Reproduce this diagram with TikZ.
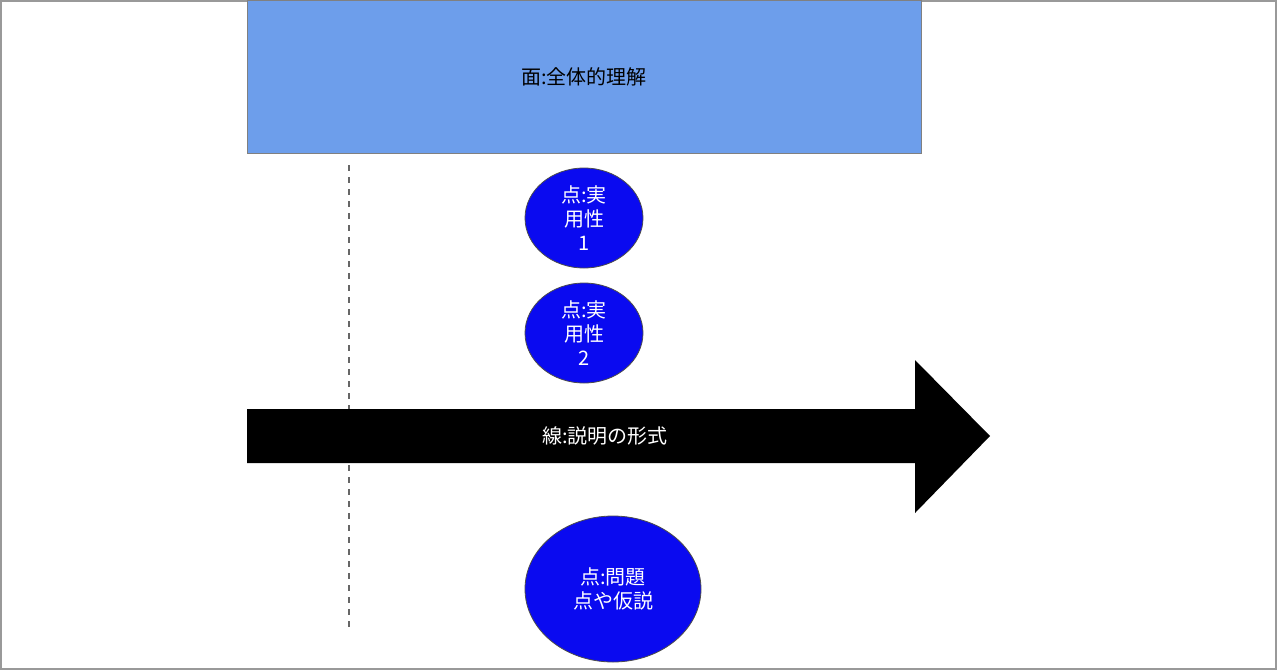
\documentclass[tikz,border=0pt]{standalone}
\usepackage{fontspec}
\setmainfont{Noto Sans CJK JP}
\definecolor{faceblue}{HTML}{6D9EEB}
\definecolor{pointblue}{HTML}{0A0AF0}
\tikzset{
  point/.style={ellipse,draw=black!70,fill=pointblue,text=white,align=center,inner sep=0pt,font=\fontsize{10}{12}\selectfont},
}
\usetikzlibrary{shapes.geometric}
\begin{document}
\begin{tikzpicture}[x=0.5pt,y=-0.5pt]
  \useasboundingbox (0,0) rectangle (1280,670);
  \draw[black!40,line width=0.6pt] (1,1) rectangle (1276,669);
  % face
  \draw[fill=faceblue,draw=black!50] (247,0) rectangle (921,153);
  \node[font=\fontsize{10}{12}\selectfont] (face) at (584,77) {面:全体的理解};
  % dashed guide
  \draw[dashed,black!60,line width=0.8pt] (349,165) -- (349,632);
  % points
  \node[point,minimum width=59pt,minimum height=50pt] (p1) at (584,218) {点:実\\用性\\1};
  \node[point,minimum width=59pt,minimum height=50pt] (p2) at (584,333) {点:実\\用性\\2};
  \node[point,minimum width=88pt,minimum height=73pt] (p3) at (613,589) {点:問題\\点や仮説};
  % line
  \fill[black] (247,409) -- (915,409) -- (915,360) -- (990,436) -- (915,513) -- (915,463) -- (247,463) -- cycle;
  \node[text=white,font=\fontsize{10}{12}\selectfont] (line) at (605,436) {線:説明の形式};
\end{tikzpicture}
\end{document}
